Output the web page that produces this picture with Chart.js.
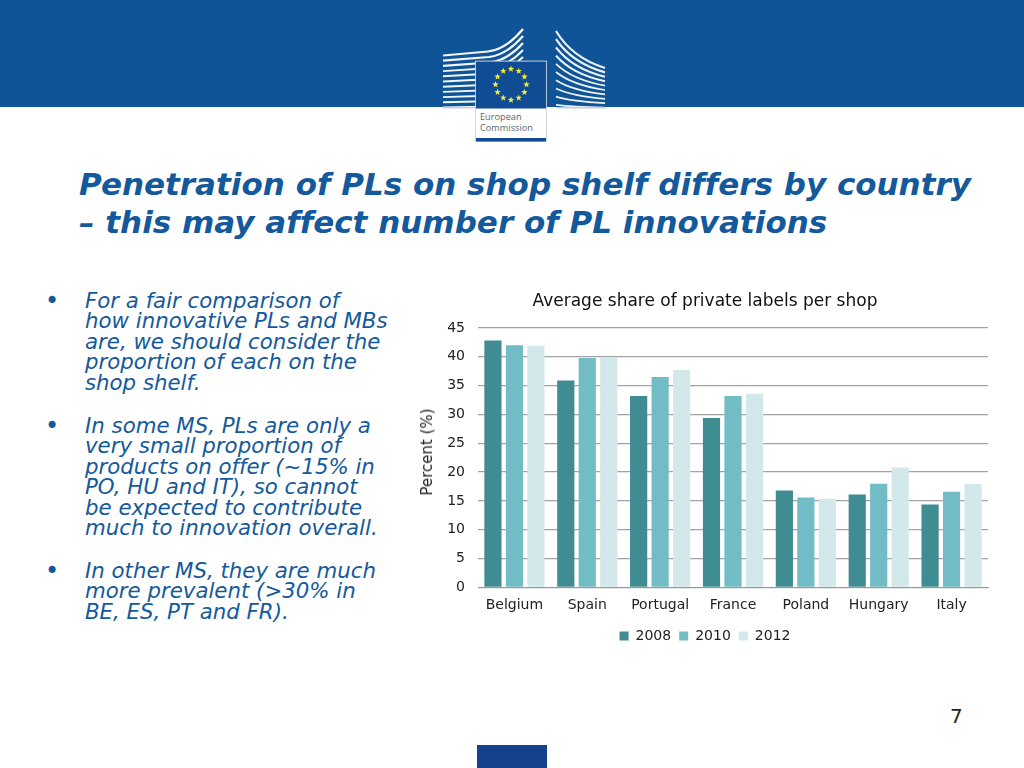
<!DOCTYPE html>
<html>
<head>
<meta charset="utf-8">
<title>Penetration of PLs on shop shelf</title>
<script src="https://cdn.jsdelivr.net/npm/chart.js@4/dist/chart.umd.min.js"></script>
<style>
html, body { margin: 0; padding: 0; background: #fff; }
body { width: 1024px; height: 768px; overflow: hidden; position: relative; font-family: "DejaVu Sans", sans-serif; font-variant-ligatures: none; }
#band { position: absolute; left: 0; top: 0; width: 1024px; height: 107px; background: #0f5496; }
#logo { position: absolute; left: 0; top: 0; }
#heading { position: absolute; left: 79px; top: 166px; margin: 0; font-size: 31px; line-height: 37.5px; font-weight: bold; font-style: italic; color: #14599b; white-space: pre; }
.item { position: absolute; left: 85px; margin: 0; font-size: 21.3px; line-height: 20.4px; font-style: italic; color: #14599b; white-space: pre; }
.dot { position: absolute; left: 45px; font-size: 24px; line-height: 20px; color: #14599b; }
#chartBox { position: absolute; left: 410px; top: 285px; width: 590px; height: 368px; }
#yTitle { position: absolute; left: 427px; top: 452px; font-size: 15px; line-height: 16px; color: #222; white-space: nowrap; transform: translate(-50%, -50%) rotate(-90deg); }
#pageNo { position: absolute; left: 950px; top: 704px; font-size: 20px; line-height: 24px; color: #222; }
#foot { position: absolute; left: 477px; top: 745px; width: 70px; height: 23px; background: #15408c; }
</style>
</head>
<body>
<div id="band"></div>
<svg id="logo" width="1024" height="150" xmlns="http://www.w3.org/2000/svg"></svg>

<h1 id="heading">Penetration of PLs on shop shelf differs by country
– this may affect number of PL innovations</h1>

<div class="dot" style="top:291px">•</div>
<p class="item" style="top:291px">For a fair comparison of
how innovative PLs and MBs
are, we should consider the
proportion of each on the
shop shelf.</p>
<div class="dot" style="top:416px">•</div>
<p class="item" style="top:416px">In some MS, PLs are only a
very small proportion of
products on offer (~15% in
PO, HU and IT), so cannot
be expected to contribute
much to innovation overall.</p>
<div class="dot" style="top:561px">•</div>
<p class="item" style="top:561px">In other MS, they are much
more prevalent (&gt;30% in
BE, ES, PT and FR).</p>

<div id="chartBox"><canvas id="chart" width="590" height="368"></canvas></div>
<div id="yTitle">Percent (%)</div>
<div id="pageNo">7</div>
<div id="foot"></div>

<script>
const countries = ['Belgium', 'Spain', 'Portugal', 'France', 'Poland', 'Hungary', 'Italy'];
const share2008 = [42.8, 35.9, 33.2, 29.4, 16.8, 16.1, 14.4];
const share2010 = [42.0, 39.8, 36.5, 33.2, 15.6, 18.0, 16.6];
const share2012 = [41.9, 39.9, 37.7, 33.6, 15.4, 20.8, 18.0];
const yTicks = [0, 5, 10, 15, 20, 25, 30, 35, 40, 45];

// logo, drawn as plain svg
function buildLogo() {
    const NS = 'http://www.w3.org/2000/svg';
    const svg = document.getElementById('logo');
    const add = (tag, attrs, text) => {
        const el = document.createElementNS(NS, tag);
        for (const k in attrs) el.setAttribute(k, attrs[k]);
        if (text) el.textContent = text;
        svg.appendChild(el);
        return el;
    };
    // left wing
    for (let i = 0; i < 11; i++) {
        const yl = 55.5 + i * 5.2;
        const yr = 29 + i * 7;
        const xm = 500 + i * 1;
        add('path', { d: `M443 ${yl} L${xm - 12} ${yl - 4 + i * 0.3} Q${xm + 6} ${yl - 6} 523 ${yr}`,
            fill: 'none', stroke: '#fff', 'stroke-width': i < 3 ? 2.2 : 1.9, opacity: 0.95 });
    }
    // right wing
    for (let i = 0; i < 10; i++) {
        const yl = 31 + i * 8.2;
        const yr = 68 + i * 4.4;
        add('path', { d: `M556 ${yl} Q572 ${yl + (yr - yl) * 0.72} 605 ${yr}`,
            fill: 'none', stroke: '#fff', 'stroke-width': i < 4 ? 2.2 : 1.7, opacity: 0.92 });
    }
    add('rect', { x: 443, y: 107, width: 33, height: 1.5, fill: '#c9ced6' });
    add('rect', { x: 556.5, y: 107, width: 49, height: 1.5, fill: '#c9ced6' });
    // flag card
    add('rect', { x: 475.5, y: 61, width: 71, height: 80.5, fill: '#fff', stroke: '#c4ccd6', 'stroke-width': 0.8 });
    add('rect', { x: 476, y: 61.5, width: 70, height: 47, fill: '#0f4c94' });
    add('rect', { x: 476, y: 138, width: 70, height: 3.5, fill: '#0f4c94' });
    for (let i = 0; i < 12; i++) {
        const a = i * Math.PI / 6;
        const cx = 511 + 15.5 * Math.sin(a), cy = 84.5 - 15.5 * Math.cos(a);
        let pts = [];
        for (let j = 0; j < 10; j++) {
            const r = j % 2 ? 1.4 : 3.4, b = j * Math.PI / 5;
            pts.push((cx + r * Math.sin(b)).toFixed(2) + ',' + (cy - r * Math.cos(b)).toFixed(2));
        }
        add('polygon', { points: pts.join(' '), fill: '#f4ea3c' });
    }
    const logoFont = { 'font-family': 'Open Sans, sans-serif', 'font-size': 9.2, fill: '#5d6670' };
    add('text', { x: 480, y: 120, ...logoFont }, 'European');
    add('text', { x: 480, y: 131, ...logoFont }, 'Commission');
}
buildLogo();

const fontName = '"DejaVu Sans", sans-serif';

new Chart(document.getElementById('chart').getContext('2d'), {
    type: 'bar',
    data: {
        labels: countries,
        datasets: [
            { label: '2008', data: share2008, backgroundColor: '#3f8c93' },
            { label: '2010', data: share2010, backgroundColor: '#72bcc5' },
            { label: '2012', data: share2012, backgroundColor: '#d2e8ea' }
        ]
    },
    options: {
        responsive: false,
        animation: false,
        devicePixelRatio: 1,
        categoryPercentage: 0.885,
        barPercentage: 0.8,
        layout: { padding: { left: 12, right: 12, top: 0, bottom: 0 } },
        plugins: {
            title: {
                display: true,
                text: 'Average share of private labels per shop',
                color: '#111',
                font: { family: fontName, size: 17, weight: 'normal' },
                padding: { top: 6, bottom: 16.5 },
                align: 'center'
            },
            legend: {
                position: 'bottom',
                labels: {
                    color: '#222',
                    font: { family: fontName, size: 14 },
                    boxWidth: 9,
                    boxHeight: 9,
                    padding: 8
                }
            },
            tooltip: { enabled: false }
        },
        scales: {
            x: {
                grid: { display: false, drawTicks: false },
                border: { color: '#999', width: 1 },
                ticks: { color: '#222', font: { family: fontName, size: 14 }, padding: 9.5, maxRotation: 0, autoSkip: false },
                afterFit: (axis) => { axis.height = 33.5; }
            },
            y: {
                min: 0,
                max: 45,
                afterBuildTicks: (axis) => { axis.ticks = yTicks.map(v => ({ value: v })); },
                grid: { color: '#a3a3a3', lineWidth: 1.3, drawTicks: false },
                border: { display: false },
                ticks: { color: '#222', font: { family: fontName, size: 14 }, padding: 13 },
                afterFit: (axis) => { axis.width = 56; }
            }
        }
    }
});
</script>
</body>
</html>
